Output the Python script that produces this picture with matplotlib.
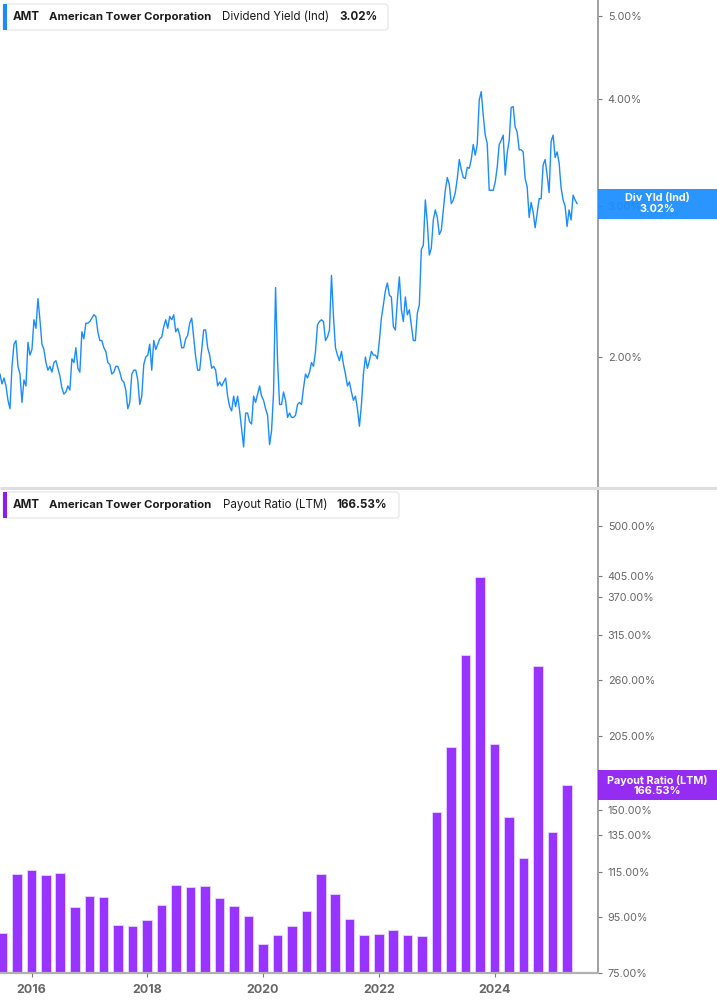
import matplotlib
matplotlib.use("Agg")
import matplotlib.pyplot as plt
import matplotlib.dates as mdates
from matplotlib.patches import FancyBboxPatch, Rectangle
from matplotlib.ticker import FixedLocator, FuncFormatter, NullLocator
import numpy as np
import pandas as pd

plt.rcParams['font.family'] = ['Inter', 'DejaVu Sans']

# ---- data ----
ticker = "AMT"
company = "American Tower Corporation"

# dividend yield (%), evenly spaced samples between these two dates
yield_start, yield_end = "2015-06-16", "2025-06-04"
div_yield = [
    1.91, 1.86, 1.89, 1.85, 1.78, 1.74, 1.95, 2.07, 2.09, 1.95, 1.91, 1.77, 1.88, 1.85, 2.08, 2.01, 2.04, 2.21, 2.16, 2.34,
    2.21, 2.07, 2.04, 1.97, 1.93, 1.95, 1.92, 1.97, 1.98, 1.94, 1.90, 1.84, 1.81, 1.82, 1.85, 1.83, 1.99, 1.97, 2.05, 1.94,
    1.92, 2.14, 2.10, 2.19, 2.19, 2.20, 2.22, 2.24, 2.23, 2.14, 2.09, 2.09, 2.05, 2.03, 1.97, 1.96, 1.91, 1.92, 1.95, 1.95,
    1.92, 1.88, 1.87, 1.83, 1.74, 1.77, 1.91, 1.93, 1.93, 1.88, 1.76, 1.80, 1.96, 2.00, 2.01, 2.07, 1.93, 2.09, 2.04, 2.07,
    2.10, 2.11, 2.17, 2.21, 2.16, 2.23, 2.21, 2.24, 2.14, 2.16, 2.12, 2.05, 2.05, 2.10, 2.12, 2.19, 2.22, 2.11, 2.00, 1.93,
    1.93, 2.04, 2.15, 2.15, 2.05, 2.01, 1.94, 1.95, 1.93, 1.85, 1.87, 1.85, 1.87, 1.89, 1.80, 1.75, 1.73, 1.80, 1.75, 1.80,
    1.73, 1.65, 1.57, 1.72, 1.72, 1.68, 1.67, 1.80, 1.77, 1.81, 1.85, 1.80, 1.78, 1.74, 1.71, 1.58, 1.64, 1.82, 2.41, 1.98,
    1.76, 1.76, 1.82, 1.78, 1.70, 1.72, 1.70, 1.70, 1.71, 1.76, 1.77, 1.76, 1.84, 1.91, 1.89, 1.92, 1.97, 1.95, 2.03, 2.18,
    2.20, 2.21, 2.20, 2.09, 2.11, 2.15, 2.49, 2.23, 2.05, 2.01, 1.98, 2.03, 1.96, 1.91, 1.85, 1.87, 1.82, 1.78, 1.80, 1.74,
    1.66, 1.76, 1.91, 2.00, 1.94, 1.98, 2.03, 2.01, 2.01, 1.99, 2.09, 2.22, 2.30, 2.39, 2.44, 2.36, 2.35, 2.17, 2.15, 2.33,
    2.48, 2.27, 2.20, 2.35, 2.24, 2.27, 2.18, 2.09, 2.09, 2.25, 2.30, 2.67, 2.70, 3.05, 2.87, 2.63, 2.68, 2.89, 2.97, 2.91,
    2.78, 2.81, 2.97, 3.13, 3.24, 3.18, 3.02, 3.05, 3.11, 3.23, 3.40, 3.31, 3.24, 3.23, 3.33, 3.32, 3.40, 3.54, 3.44, 3.54,
    3.99, 4.08, 3.83, 3.63, 3.55, 3.13, 3.13, 3.13, 3.20, 3.33, 3.54, 3.58, 3.63, 3.26, 3.46, 3.58, 3.91, 3.92, 3.71, 3.66,
    3.49, 3.49, 3.47, 3.23, 3.16, 2.91, 3.03, 2.95, 2.83, 2.94, 3.06, 3.06, 3.35, 3.40, 3.26, 3.11, 3.57, 3.63, 3.42, 3.47,
    3.37, 3.15, 3.05, 3.00, 2.84, 2.97, 2.89, 3.09, 3.05, 3.02,
]

# payout ratio (LTM, %), one bar per quarter end
payout_start, payout_end = "2015-06-30", "2025-03-31"
payout_ratio = [
    88.8, 114.3, 116.0, 113.5, 114.5, 99.4, 103.8, 103.5, 91.9, 91.4,
    93.9, 100.2, 108.8, 108.1, 108.4, 103.3, 99.5, 95.6, 85.0, 88.2,
    91.6, 97.6, 114.0, 104.9, 94.2, 88.1, 88.5, 89.9, 88.2, 87.7,
    148.7, 195.9, 289.6, 403.4, 198.4, 145.5, 122.0, 276.4, 136.5, 166.53,
]

yield_ticks = [2, 3, 4, 5]
payout_ticks = [75, 95, 115, 135, 150, 205, 260, 315, 370, 405, 500]
year_ticks = [2016, 2018, 2020, 2022, 2024]

# ---- styling ----
BLUE = "#1a8cff"
PURPLE = "#9933ff"
PURPLE_DARK = "#8c1cf2"
TXT = "#1c1c1c"
AXIS = "#9a9a9a"
TICKLBL = "#666666"

W, H = 717, 1005
fig = plt.figure(figsize=(W / 100, H / 100), dpi=100)
fig.patch.set_facecolor("white")


def frac(x0, y0, x1, y1):
    return [x0 / W, 1 - y1 / H, (x1 - x0) / W, (y1 - y0) / H]


x_left, x_right = pd.Timestamp("2015-06-16"), pd.Timestamp("2025-10-14")
yield_dates = pd.date_range(yield_start, yield_end, periods=len(div_yield))
quarters = pd.date_range(payout_start, payout_end, freq="QE")
pct = FuncFormatter(lambda v, p: f"{v:.2f}%")

# ==== top: dividend yield ====
ax1 = fig.add_axes(frac(0, 0, 598, 487))
ax1.plot(yield_dates, div_yield, color=BLUE, linewidth=1.0)
ax1.set_yscale("log")
ax1.set_ylim(1.41, 5.22)
ax1.set_xlim(x_left, x_right)

# ==== bottom: payout ratio ====
ax2 = fig.add_axes(frac(0, 489, 598, 973))
ax2.bar(quarters, payout_ratio, width=60, color=PURPLE, edgecolor="#e6d4ff", linewidth=0.6)
ax2.set_yscale("log")
ax2.set_ylim(75, 586)
ax2.set_xlim(x_left, x_right)

for ax, ticks in ((ax1, yield_ticks), (ax2, payout_ticks)):
    ax.yaxis.tick_right()
    ax.yaxis.set_major_locator(FixedLocator(ticks))
    ax.yaxis.set_minor_locator(NullLocator())
    ax.yaxis.set_major_formatter(pct)
    ax.tick_params(axis="y", which="major", length=3, width=0.8, color="#777777",
                   labelsize=7.8, labelcolor=TICKLBL, pad=4)
    for s in ("top", "left"):
        ax.spines[s].set_visible(False)
    ax.spines["right"].set_color(AXIS)
    ax.spines["right"].set_linewidth(1.3)
    ax.set_facecolor("none")

ax1.spines["bottom"].set_visible(False)
ax1.set_xticks([])

ax2.spines["bottom"].set_color("#b0b0b0")
ax2.spines["bottom"].set_linewidth(1.6)
ax2.set_xticks([pd.Timestamp(f"{y}-01-01") for y in year_ticks])
ax2.set_xticklabels([str(y) for y in year_ticks])
ax2.xaxis.set_minor_locator(NullLocator())
ax2.tick_params(axis="x", length=3, width=0.8, color="#777777", labelsize=9,
                labelcolor=TICKLBL, pad=5)
for lbl in ax2.get_xticklabels():
    lbl.set_fontweight("bold")

# ==== overlay: legends, separator, last-value tags ====
ov = fig.add_axes([0, 0, 1, 1], zorder=10)
ov.set_xlim(0, W)
ov.set_ylim(H, 0)
ov.axis("off")
ov.patch.set_alpha(0)

ov.plot([0, W], [487.5, 487.5], color="#dedede", linewidth=2.2, solid_capstyle="butt")


def legend_box(y0, x1, bar_color, metric, value):
    ov.add_patch(FancyBboxPatch((3, y0), x1 - 3, 26, boxstyle="round,pad=0,rounding_size=3",
                                facecolor="white", edgecolor="#e4e4e4", linewidth=0.8))
    ov.add_patch(Rectangle((3, y0), 4, 26, facecolor=bar_color, edgecolor="none"))
    yc = y0 + 13
    ov.text(13, yc, ticker, fontsize=8.3, fontweight="bold", color=TXT, va="center")
    ov.text(49, yc, company, fontsize=8.2, fontweight="bold", color=TXT, va="center")
    ov.text(metric[1], yc, metric[0], fontsize=8.3, color=TXT, va="center")
    ov.text(value[1], yc, value[0], fontsize=8.3, fontweight="bold", color=TXT, va="center")


legend_box(4, 388, BLUE, ("Dividend Yield (Ind)", 222), (f"{div_yield[-1]:.2f}%", 339))
legend_box(492, 399, PURPLE_DARK, ("Payout Ratio (LTM)", 223), (f"{payout_ratio[-1]:.2f}%", 336))


def value_tag(ax, date, value, color, name):
    y_disp = ax.transData.transform((mdates.date2num(date), value))[1]
    yc = H - y_disp
    ov.add_patch(Rectangle((598, yc - 15), W - 598, 30, facecolor=color, edgecolor="none", alpha=0.93))
    ov.text(657, yc, f"{name}\n{value:.2f}%", fontsize=7.8, fontweight="bold", color="white",
            ha="center", va="center", linespacing=1.05)


value_tag(ax1, yield_dates[-1], div_yield[-1], BLUE, "Div Yld (Ind)")
value_tag(ax2, quarters[-1], payout_ratio[-1], PURPLE_DARK, "Payout Ratio (LTM)")

fig.savefig("out.png", dpi=100, facecolor="white")
